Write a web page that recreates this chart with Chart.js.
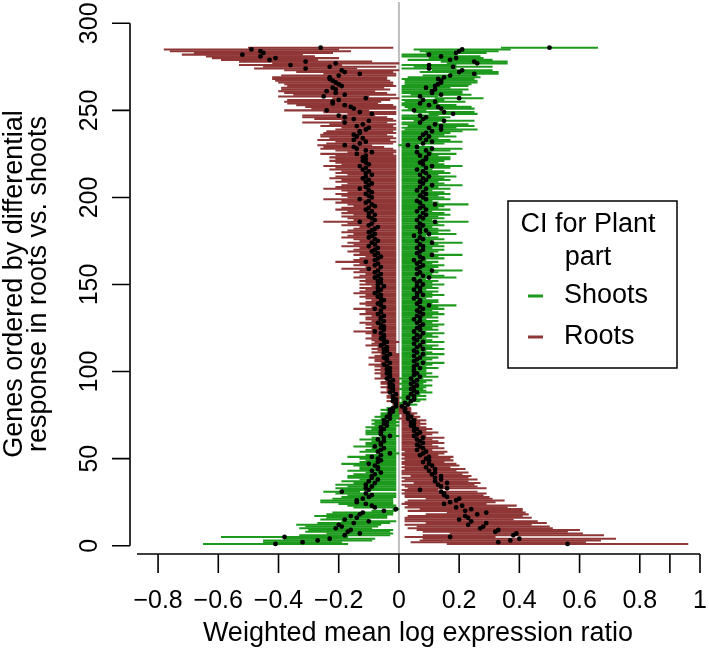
<!DOCTYPE html>
<html>
<head>
<meta charset="utf-8">
<script src="https://cdn.jsdelivr.net/npm/chart.js@4"></script>
<style>
  html, body { margin: 0; padding: 0; background: #fff; }
</style>
</head>
<body>
<canvas id="Chart" width="709" height="651"></canvas>
<script>
// genes ordered bottom (1) to top (286)
const rootMean = [
  0.56, 0.33, 0.37, 0.40, 0.17, 0.38, 0.39, 0.32, 0.33, 0.27,
  0.28, 0.23, 0.29, 0.24, 0.20, 0.23, 0.22, 0.26, 0.29, 0.22,
  0.24, 0.19, 0.21, 0.15, 0.17, 0.19, 0.20, 0.16, 0.15, 0.15,
  0.14, 0.07, 0.16, 0.14, 0.13, 0.16, 0.12, 0.14, 0.12, 0.14,
  0.11, 0.12, 0.10, 0.12, 0.09, 0.11, 0.10, 0.08, 0.10, 0.09,
  0.10, 0.07, 0.08, 0.09, 0.06, 0.08, 0.07, 0.06, 0.08, 0.07,
  0.06, 0.08, 0.05, 0.06, 0.07, 0.05, 0.06, 0.05, 0.04, 0.05,
  0.04, 0.05, 0.03, 0.04, 0.03, 0.03, 0.02, 0.02, 0.02, 0.01,
  -0.01, -0.01, -0.02, -0.01, -0.02, -0.02, -0.01, -0.03, -0.02, -0.02,
  -0.03, -0.02, -0.03, -0.03, -0.02, -0.04, -0.03, -0.03, -0.04, -0.03,
  -0.04, -0.03, -0.04, -0.05, -0.03, -0.04, -0.04, -0.05, -0.04, -0.03,
  -0.05, -0.04, -0.05, -0.04, -0.06, -0.05, -0.04, -0.05, -0.06, -0.05,
  -0.05, -0.06, -0.08, -0.05, -0.06, -0.05, -0.06, -0.07, -0.05, -0.06,
  -0.06, -0.05, -0.07, -0.06, -0.06, -0.08, -0.05, -0.06, -0.07, -0.06,
  -0.05, -0.06, -0.07, -0.06, -0.08, -0.07, -0.06, -0.07, -0.05, -0.07,
  -0.06, -0.07, -0.06, -0.08, -0.07, -0.06, -0.08, -0.07, -0.10, -0.06,
  -0.08, -0.07, -0.11, -0.08, -0.07, -0.06, -0.08, -0.07, -0.09, -0.08,
  -0.07, -0.10, -0.08, -0.09, -0.07, -0.08, -0.10, -0.09, -0.08, -0.10,
  -0.09, -0.08, -0.07, -0.10, -0.09, -0.13, -0.08, -0.09, -0.10, -0.08,
  -0.10, -0.09, -0.11, -0.10, -0.08, -0.09, -0.11, -0.10, -0.13, -0.09,
  -0.10, -0.11, -0.09, -0.10, -0.13, -0.11, -0.10, -0.09, -0.11, -0.10,
  -0.12, -0.11, -0.09, -0.11, -0.10, -0.12, -0.11, -0.13, -0.10, -0.11,
  -0.12, -0.11, -0.12, -0.11, -0.14, -0.09, -0.11, -0.14, -0.15, -0.18,
  -0.13, -0.11, -0.15, -0.12, -0.14, -0.15, -0.13, -0.13, -0.11, -0.10,
  -0.14, -0.12, -0.18, -0.10, -0.15, -0.18, -0.20, -0.09, -0.13, -0.24,
  -0.15, -0.16, -0.18, -0.22, -0.22, -0.20, -0.11, -0.25, -0.18, -0.21,
  -0.24, -0.21, -0.22, -0.19, -0.20, -0.21, -0.22, -0.23, -0.23, -0.20,
  -0.13, -0.18, -0.19, -0.31, -0.23, -0.36, -0.21, -0.31, -0.43, -0.41,
  -0.46, -0.52, -0.45, -0.46, -0.49, -0.26
];
const rootHalf = [
  0.40, 0.29, 0.30, 0.32, 0.15, 0.30, 0.22, 0.24, 0.27, 0.24,
  0.22, 0.21, 0.20, 0.22, 0.18, 0.21, 0.19, 0.17, 0.13, 0.19,
  0.17, 0.17, 0.18, 0.14, 0.15, 0.16, 0.11, 0.14, 0.13, 0.14,
  0.12, 0.06, 0.13, 0.12, 0.12, 0.11, 0.11, 0.12, 0.11, 0.10,
  0.10, 0.11, 0.09, 0.10, 0.08, 0.09, 0.09, 0.07, 0.08, 0.08,
  0.08, 0.06, 0.07, 0.07, 0.05, 0.07, 0.06, 0.05, 0.07, 0.06,
  0.05, 0.07, 0.04, 0.05, 0.06, 0.04, 0.05, 0.04, 0.03, 0.04,
  0.03, 0.04, 0.03, 0.03, 0.02, 0.03, 0.02, 0.02, 0.02, 0.01,
  0.01, 0.01, 0.02, 0.01, 0.02, 0.02, 0.01, 0.03, 0.02, 0.02,
  0.03, 0.02, 0.03, 0.03, 0.02, 0.04, 0.03, 0.03, 0.04, 0.03,
  0.04, 0.03, 0.04, 0.05, 0.03, 0.04, 0.04, 0.05, 0.04, 0.03,
  0.04, 0.03, 0.04, 0.03, 0.05, 0.04, 0.04, 0.04, 0.05, 0.04,
  0.04, 0.05, 0.07, 0.04, 0.05, 0.04, 0.05, 0.06, 0.04, 0.05,
  0.05, 0.04, 0.06, 0.05, 0.05, 0.07, 0.04, 0.05, 0.06, 0.05,
  0.04, 0.05, 0.06, 0.05, 0.07, 0.06, 0.05, 0.06, 0.04, 0.06,
  0.05, 0.06, 0.05, 0.07, 0.06, 0.05, 0.07, 0.06, 0.09, 0.05,
  0.07, 0.06, 0.10, 0.07, 0.06, 0.05, 0.07, 0.06, 0.08, 0.07,
  0.06, 0.09, 0.07, 0.08, 0.06, 0.07, 0.09, 0.08, 0.07, 0.09,
  0.08, 0.07, 0.06, 0.09, 0.08, 0.12, 0.07, 0.08, 0.09, 0.07,
  0.09, 0.08, 0.10, 0.09, 0.07, 0.08, 0.10, 0.09, 0.12, 0.08,
  0.09, 0.10, 0.08, 0.09, 0.12, 0.10, 0.09, 0.08, 0.10, 0.09,
  0.11, 0.10, 0.08, 0.10, 0.09, 0.11, 0.10, 0.12, 0.09, 0.10,
  0.11, 0.10, 0.11, 0.10, 0.12, 0.08, 0.10, 0.12, 0.10, 0.09,
  0.11, 0.10, 0.12, 0.11, 0.12, 0.11, 0.12, 0.11, 0.10, 0.09,
  0.12, 0.11, 0.14, 0.09, 0.13, 0.14, 0.12, 0.08, 0.12, 0.14,
  0.14, 0.15, 0.16, 0.15, 0.16, 0.17, 0.11, 0.15, 0.17, 0.17,
  0.16, 0.18, 0.17, 0.18, 0.18, 0.19, 0.19, 0.19, 0.19, 0.19,
  0.12, 0.16, 0.19, 0.17, 0.22, 0.17, 0.21, 0.22, 0.16, 0.21,
  0.18, 0.20, 0.23, 0.30, 0.29, 0.24
];
const shootMean = [
  -0.41, -0.32, -0.27, -0.23, -0.38, -0.18, -0.13, -0.17, -0.16, -0.21,
  -0.19, -0.20, -0.15, -0.10, -0.18, -0.14, -0.16, -0.13, -0.12, -0.05,
  -0.01, -0.08, -0.09, -0.11, -0.14, -0.14, -0.12, -0.10, -0.09, -0.11,
  -0.19, -0.10, -0.11, -0.09, -0.11, -0.08, -0.10, -0.07, -0.09, -0.09,
  -0.08, -0.06, -0.09, -0.07, -0.07, -0.08, -0.10, -0.07, -0.06, -0.07,
  -0.09, -0.06, -0.03, -0.07, -0.06, -0.05, -0.08, -0.06, -0.06, -0.05,
  -0.07, -0.05, -0.03, -0.06, -0.06, -0.06, -0.05, -0.06, -0.04, -0.05,
  -0.04, -0.05, -0.03, -0.04, -0.03, -0.03, -0.02, -0.03, -0.02, -0.01,
  0.03, 0.02, 0.04, 0.05, 0.03, 0.05, 0.04, 0.06, 0.05, 0.04,
  0.05, 0.06, 0.04, 0.05, 0.06, 0.04, 0.07, 0.05, 0.06, 0.05,
  0.05, 0.07, 0.05, 0.06, 0.08, 0.05, 0.06, 0.07, 0.05, 0.08,
  0.06, 0.05, 0.08, 0.06, 0.07, 0.05, 0.08, 0.06, 0.05, 0.07,
  0.06, 0.08, 0.05, 0.07, 0.06, 0.07, 0.08, 0.06, 0.07, 0.05,
  0.07, 0.06, 0.08, 0.07, 0.06, 0.08, 0.07, 0.10, 0.06, 0.07,
  0.07, 0.05, 0.06, 0.08, 0.06, 0.07, 0.05, 0.07, 0.06, 0.08,
  0.06, 0.07, 0.05, 0.10, 0.08, 0.06, 0.07, 0.11, 0.06, 0.07,
  0.08, 0.06, 0.07, 0.05, 0.08, 0.07, 0.11, 0.06, 0.07, 0.08,
  0.06, 0.08, 0.07, 0.11, 0.06, 0.08, 0.07, 0.05, 0.10, 0.07,
  0.09, 0.07, 0.06, 0.08, 0.07, 0.12, 0.06, 0.08, 0.07, 0.09,
  0.08, 0.06, 0.09, 0.07, 0.08, 0.12, 0.07, 0.06, 0.09, 0.08,
  0.07, 0.09, 0.08, 0.06, 0.09, 0.07, 0.11, 0.08, 0.07, 0.09,
  0.08, 0.10, 0.07, 0.09, 0.08, 0.06, 0.09, 0.11, 0.08, 0.07,
  0.08, 0.09, 0.09, 0.07, 0.10, 0.06, 0.09, 0.11, 0.06, 0.03,
  0.08, 0.11, 0.09, 0.07, 0.10, 0.08, 0.09, 0.11, 0.14, 0.10,
  0.14, 0.12, 0.07, 0.15, 0.08, 0.09, 0.07, 0.18, 0.15, 0.05,
  0.14, 0.13, 0.10, 0.07, 0.12, 0.08, 0.20, 0.07, 0.14, 0.11,
  0.11, 0.12, 0.09, 0.12, 0.13, 0.14, 0.14, 0.13, 0.15, 0.17,
  0.25, 0.20, 0.21, 0.10, 0.18, 0.10, 0.26, 0.25, 0.17, 0.19,
  0.14, 0.10, 0.19, 0.20, 0.21, 0.50
];
const shootHalf = [
  0.24, 0.13, 0.18, 0.15, 0.21, 0.15, 0.11, 0.14, 0.14, 0.12,
  0.12, 0.14, 0.12, 0.09, 0.08, 0.10, 0.12, 0.11, 0.10, 0.04,
  0.01, 0.07, 0.08, 0.09, 0.12, 0.12, 0.10, 0.09, 0.08, 0.10,
  0.06, 0.09, 0.10, 0.08, 0.10, 0.07, 0.09, 0.06, 0.08, 0.08,
  0.07, 0.05, 0.08, 0.06, 0.06, 0.07, 0.09, 0.06, 0.05, 0.06,
  0.08, 0.05, 0.03, 0.06, 0.05, 0.04, 0.07, 0.05, 0.05, 0.04,
  0.06, 0.04, 0.03, 0.05, 0.05, 0.05, 0.04, 0.05, 0.04, 0.04,
  0.04, 0.04, 0.03, 0.04, 0.03, 0.03, 0.02, 0.03, 0.02, 0.01,
  0.03, 0.02, 0.03, 0.04, 0.03, 0.04, 0.03, 0.05, 0.04, 0.04,
  0.04, 0.05, 0.04, 0.04, 0.05, 0.04, 0.06, 0.04, 0.05, 0.04,
  0.04, 0.06, 0.04, 0.05, 0.07, 0.04, 0.05, 0.06, 0.04, 0.07,
  0.05, 0.04, 0.07, 0.05, 0.06, 0.04, 0.07, 0.05, 0.04, 0.06,
  0.05, 0.07, 0.04, 0.06, 0.05, 0.06, 0.07, 0.05, 0.06, 0.04,
  0.06, 0.05, 0.07, 0.06, 0.05, 0.07, 0.06, 0.09, 0.05, 0.06,
  0.06, 0.04, 0.05, 0.07, 0.05, 0.06, 0.04, 0.06, 0.05, 0.07,
  0.05, 0.06, 0.04, 0.09, 0.07, 0.05, 0.06, 0.10, 0.05, 0.06,
  0.07, 0.05, 0.06, 0.04, 0.07, 0.06, 0.10, 0.05, 0.06, 0.07,
  0.05, 0.07, 0.06, 0.10, 0.05, 0.07, 0.06, 0.04, 0.09, 0.06,
  0.08, 0.06, 0.05, 0.07, 0.06, 0.11, 0.05, 0.07, 0.06, 0.08,
  0.07, 0.05, 0.08, 0.06, 0.07, 0.11, 0.06, 0.05, 0.08, 0.07,
  0.06, 0.08, 0.07, 0.05, 0.08, 0.06, 0.10, 0.07, 0.06, 0.08,
  0.07, 0.09, 0.06, 0.08, 0.07, 0.05, 0.08, 0.10, 0.07, 0.06,
  0.07, 0.08, 0.08, 0.06, 0.09, 0.05, 0.08, 0.10, 0.05, 0.03,
  0.07, 0.10, 0.08, 0.06, 0.09, 0.07, 0.08, 0.10, 0.12, 0.09,
  0.11, 0.11, 0.06, 0.10, 0.07, 0.08, 0.06, 0.08, 0.10, 0.04,
  0.11, 0.11, 0.09, 0.06, 0.10, 0.07, 0.08, 0.06, 0.10, 0.10,
  0.10, 0.11, 0.08, 0.11, 0.11, 0.12, 0.12, 0.12, 0.12, 0.09,
  0.08, 0.13, 0.10, 0.09, 0.13, 0.09, 0.10, 0.11, 0.14, 0.09,
  0.13, 0.09, 0.10, 0.13, 0.16, 0.16
];
const yTicks = [0, 50, 100, 150, 200, 250, 300];
const xTicks = [-0.8, -0.6, -0.4, -0.2, 0, 0.2, 0.4, 0.6, 0.8, 0.9, 1];
const xTickLabels = ["\u22120.8", "\u22120.6", "\u22120.4", "\u22120.2", "0", "0.2", "0.4", "0.6", "0.8", "", "1"];
const genes = rootMean.map((_, i) => i + 1);

const green = "#1d9a1d";
const red = "#8f3636";
const font = "'Liberation Sans', Arial, sans-serif";

const ciData = (mean, half) => genes.map((g, i) => ({ y: g, x: [mean[i] - half[i], mean[i] + half[i]] }));
const ptData = (mean) => genes.map((g, i) => ({ x: mean[i], y: g }));

// R-style axes, zero line and legend
const rAxes = {
    id: "rAxes",
    beforeDatasetsDraw(chart) {
        const ctx = chart.ctx;
        const x0 = chart.scales.x.getPixelForValue(0);
        ctx.save();
        ctx.strokeStyle = "#bdbdbd";
        ctx.lineWidth = 2;
        ctx.beginPath();
        ctx.moveTo(x0, 2);
        ctx.lineTo(x0, chart.chartArea.bottom);
        ctx.stroke();
        ctx.restore();
    },
    afterDraw(chart) {
        const ctx = chart.ctx;
        const xs = chart.scales.x, ys = chart.scales.y;
        ctx.save();
        ctx.strokeStyle = "#000";
        ctx.fillStyle = "#000";
        ctx.lineWidth = 1.6;

        // y axis
        const axX = 130;
        ctx.beginPath();
        ctx.moveTo(axX, ys.getPixelForValue(0));
        ctx.lineTo(axX, ys.getPixelForValue(300));
        yTicks.forEach(v => {
            const p = ys.getPixelForValue(v);
            ctx.moveTo(axX, p);
            ctx.lineTo(112, p);
        });
        ctx.stroke();
        ctx.font = "25px " + font;
        ctx.textAlign = "center";
        ctx.textBaseline = "middle";
        yTicks.forEach(v => {
            ctx.save();
            ctx.translate(90, ys.getPixelForValue(v));
            ctx.rotate(-Math.PI / 2);
            ctx.fillText(String(v), 0, 0);
            ctx.restore();
        });

        // x axis
        const axY = 554;
        ctx.beginPath();
        ctx.moveTo(137, axY);
        ctx.lineTo(xs.getPixelForValue(1), axY);
        xTicks.forEach(v => {
            const p = xs.getPixelForValue(v);
            ctx.moveTo(p, axY);
            ctx.lineTo(p, axY + 19);
        });
        ctx.stroke();
        xTicks.forEach((v, i) => {
            if (xTickLabels[i]) ctx.fillText(xTickLabels[i], xs.getPixelForValue(v), 601);
        });

        // axis titles
        ctx.font = "27px " + font;
        ctx.fillText("Weighted mean log expression ratio", 418, 634);
        ctx.save();
        ctx.translate(15, 284);
        ctx.rotate(-Math.PI / 2);
        ctx.fillText("Genes ordered by differential", 0, 0);
        ctx.fillText("response in roots vs. shoots", 0, 24);
        ctx.restore();

        // legend
        ctx.fillStyle = "#fff";
        ctx.fillRect(508, 201, 169, 167);
        ctx.lineWidth = 1.5;
        ctx.strokeRect(508, 201, 169, 167);
        ctx.fillStyle = "#000";
        ctx.fillText("CI for Plant", 588, 225);
        ctx.fillText("part", 588, 258);
        ctx.textAlign = "left";
        [["Shoots", green, 296], ["Roots", red, 337]].forEach(([lab, col, y]) => {
            ctx.strokeStyle = col;
            ctx.lineWidth = 3;
            ctx.beginPath();
            ctx.moveTo(528, y);
            ctx.lineTo(543, y);
            ctx.stroke();
            ctx.fillStyle = "#000";
            ctx.fillText(lab, 564, y);
        });
        ctx.restore();
    }
};

const ctx = document.getElementById("Chart");
new Chart(ctx, {
    type: "bar",
    data: {
        datasets: [
            { type: "scatter", label: "Root mean", data: ptData(rootMean), order: 0,
              pointRadius: 2.4, pointBackgroundColor: "#000", pointBorderWidth: 0 },
            { type: "scatter", label: "Shoot mean", data: ptData(shootMean), order: 0,
              pointRadius: 2.4, pointBackgroundColor: "#000", pointBorderWidth: 0 },
            { label: "Roots", data: ciData(rootMean, rootHalf), backgroundColor: red,
              barThickness: 1.4, grouped: false, order: 1 },
            { label: "Shoots", data: ciData(shootMean, shootHalf), backgroundColor: green,
              barThickness: 1.4, grouped: false, order: 2 }
        ]
    },
    options: {
        indexAxis: "y",
        responsive: false,
        devicePixelRatio: 1,
        animation: false,
        layout: { padding: { left: 137, right: 9, top: 14, bottom: 97 } },
        scales: {
            x: { type: "linear", min: -0.87, max: 1.0, display: false, offset: false },
            y: { type: "linear", min: -4.77, max: 305.34, display: false, offset: false }
        },
        plugins: { legend: { display: false }, tooltip: { enabled: false } }
    },
    plugins: [rAxes]
});
</script>
</body>
</html>
